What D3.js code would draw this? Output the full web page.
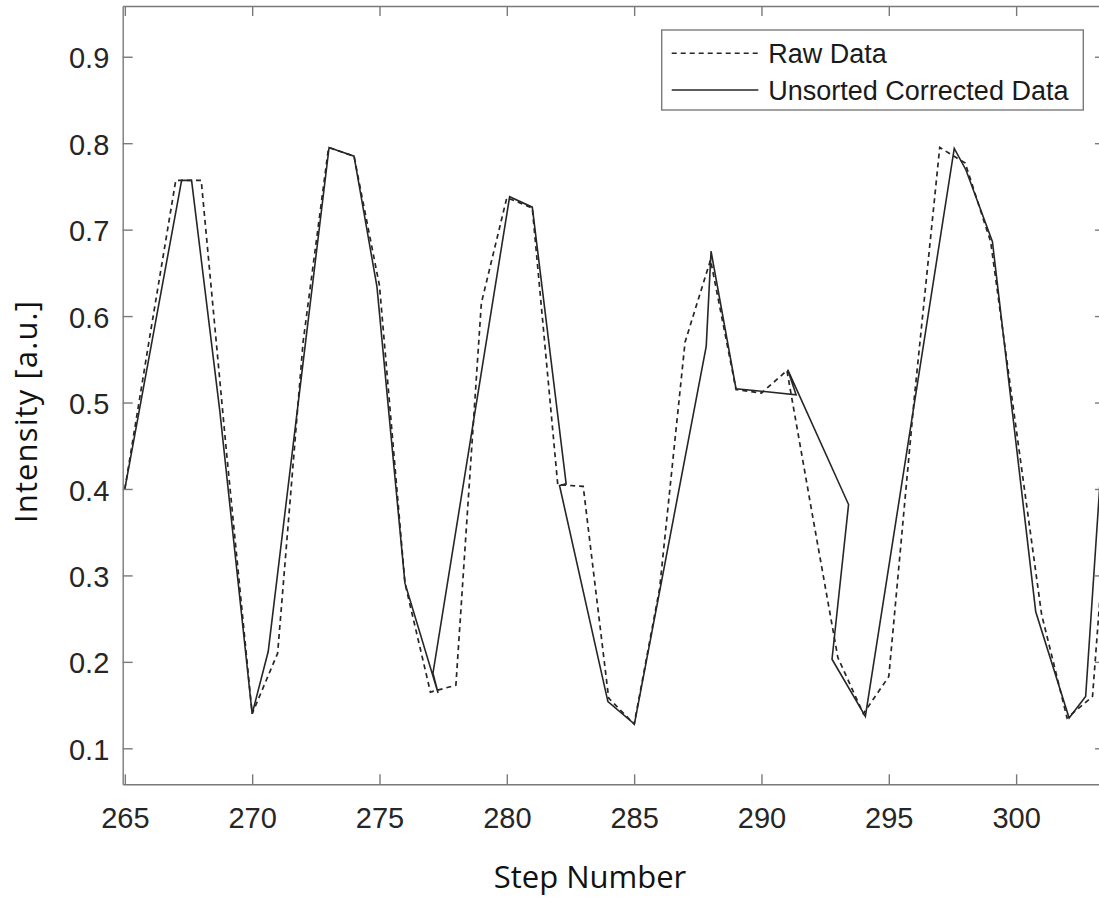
<!DOCTYPE html>
<html>
<head>
<meta charset="utf-8">
<script src="https://cdn.jsdelivr.net/npm/d3@7"></script>
<style>
  html, body { margin: 0; padding: 0; background: #fff; }
  svg { display: block; }
  .tick text { font-family: "Liberation Sans", Arial, sans-serif; font-size: 29px; fill: #262626; }
  .axis-title { font-family: "Open Sans", sans-serif; font-size: 31px; fill: #111; }
  .legend text { font-family: "Liberation Sans", Arial, sans-serif; font-size: 27px; fill: #1a1a1a; }
</style>
</head>
<body>
<div id="chart"></div>
<script>
// ===== Config =====
const WIDTH = 1099, HEIGHT = 897;
const BOX = { left: 122.7, right: 1105, top: 6, bottom: 784.3 };
const AXIS_COLOR = "#7a7a7a";
const LINE_COLOR = "#262626";

// ===== Data =====
// raw data, one reading per step
const rawStep = [265, 266, 267, 268, 269, 270, 271, 272, 273, 274,
                 275, 276, 277, 278, 279, 280, 281, 282, 283, 284,
                 285, 286, 287, 288, 289, 290, 291, 292, 293, 294,
                 295, 296, 297, 298, 299, 300, 301, 302, 303, 304];
const rawIntensity = [0.400, 0.580, 0.757, 0.757, 0.440, 0.140, 0.210, 0.570, 0.795, 0.785,
                      0.635, 0.291, 0.165, 0.173, 0.615, 0.737, 0.725, 0.405, 0.403, 0.158,
                      0.128, 0.285, 0.570, 0.665, 0.515, 0.511, 0.537, 0.370, 0.205, 0.140,
                      0.183, 0.505, 0.795, 0.777, 0.686, 0.470, 0.255, 0.135, 0.160, 0.550];

// corrected data, step positions not sorted
const corrStep = [265.00, 267.23, 267.62, 268.73, 270.00, 270.63, 273.02, 274.00, 274.90, 276.00,
                  277.30, 277.10, 280.11, 281.00, 282.33, 282.07, 283.97, 285.01, 287.83, 288.02,
                  289.00, 291.36, 291.03, 293.42, 292.77, 294.08, 297.57, 298.03, 299.07, 300.77,
                  302.08, 302.73, 303.30];
const corrIntensity = [0.400, 0.757, 0.757, 0.490, 0.140, 0.212, 0.795, 0.785, 0.634, 0.291,
                       0.164, 0.187, 0.738, 0.726, 0.406, 0.404, 0.154, 0.128, 0.565, 0.675,
                       0.516, 0.509, 0.538, 0.382, 0.203, 0.137, 0.794, 0.769, 0.686, 0.258,
                       0.135, 0.160, 0.410];

const xTicks = [265, 270, 275, 280, 285, 290, 295, 300];
const yTicks = [0.1, 0.2, 0.3, 0.4, 0.5, 0.6, 0.7, 0.8, 0.9];

const seriesNames = ["Raw Data", "Unsorted Corrected Data"];

// ===== Scales =====
const x = d3.scaleLinear().domain([264.916, 303.49]).range([BOX.left, BOX.right]);
const y = d3.scaleLinear().domain([0.05836, 0.9587]).range([BOX.bottom, BOX.top]);

const svg = d3.select("#chart").append("svg")
  .attr("width", WIDTH).attr("height", HEIGHT);

svg.append("defs").append("clipPath").attr("id", "plot-clip")
  .append("rect")
  .attr("x", BOX.left).attr("y", BOX.top)
  .attr("width", BOX.right - BOX.left).attr("height", BOX.bottom - BOX.top);

// ===== Lines =====
const raw = rawStep.map((s, i) => ({ step: s, v: rawIntensity[i] }));
const corr = corrStep.map((s, i) => ({ step: s, v: corrIntensity[i] }));
const line = d3.line().x(d => x(d.step)).y(d => y(d.v));

const plot = svg.append("g").attr("clip-path", "url(#plot-clip)");
plot.append("path").datum(raw)
  .attr("fill", "none").attr("stroke", LINE_COLOR)
  .attr("stroke-width", 1.7).attr("stroke-dasharray", "5,4")
  .attr("d", line);
plot.append("path").datum(corr)
  .attr("fill", "none").attr("stroke", LINE_COLOR)
  .attr("stroke-width", 1.6).attr("stroke-linejoin", "miter")
  .attr("d", line);

// ===== Axes (ticks point inward, box on all sides) =====
function styleAxis(g){
  g.selectAll("path.domain").attr("stroke", AXIS_COLOR).attr("stroke-width", 1.4);
  g.selectAll(".tick line").attr("stroke", AXIS_COLOR).attr("stroke-width", 1.4);
  g.selectAll(".tick text").attr("font-family", null).attr("font-size", null).attr("fill", null);
}

svg.append("g")
  .attr("transform", `translate(0,${BOX.bottom})`)
  .call(d3.axisBottom(x).tickValues(xTicks).tickSizeInner(-10).tickSizeOuter(0).tickPadding(23.4))
  .call(styleAxis);

svg.append("g")
  .attr("transform", `translate(0,${BOX.top})`)
  .call(d3.axisTop(x).tickValues(xTicks).tickSizeInner(-10).tickSizeOuter(0).tickFormat(""))
  .call(styleAxis);

svg.append("g")
  .attr("transform", `translate(${BOX.left},0)`)
  .call(d3.axisLeft(y).tickValues(yTicks).tickSizeInner(-10).tickSizeOuter(0)
    .tickPadding(13.4).tickFormat(d3.format(".1f")))
  .call(styleAxis)
  .selectAll(".tick text").attr("dy", "0.38em");

svg.append("g")
  .attr("transform", `translate(${BOX.right},0)`)
  .call(d3.axisRight(y).tickValues(yTicks).tickSizeInner(-10).tickSizeOuter(0).tickFormat(""))
  .call(styleAxis);

// ===== Axis titles =====
svg.append("text").attr("class", "axis-title")
  .attr("text-anchor", "middle")
  .attr("x", 590).attr("y", 888)
  .text("Step Number");

svg.append("text").attr("class", "axis-title")
  .attr("text-anchor", "middle")
  .attr("transform", "translate(37,412) rotate(-90)")
  .attr("textLength", 222).attr("lengthAdjust", "spacing")
  .text("Intensity [a.u.]");

// ===== Legend =====
const legend = svg.append("g").attr("class", "legend");
legend.append("rect")
  .attr("x", 661.7).attr("y", 30).attr("width", 421.6).attr("height", 80)
  .attr("fill", "#fff").attr("stroke", AXIS_COLOR).attr("stroke-width", 1.4);

const items = legend.selectAll("g.item").data(seriesNames).join("g")
  .attr("class", "item")
  .attr("transform", (d, i) => `translate(671.7, ${53.3 + i * 36.7})`);
items.append("line")
  .attr("x1", 0).attr("x2", 86.6).attr("y1", 0).attr("y2", 0)
  .attr("stroke", LINE_COLOR).attr("stroke-width", 1.6)
  .attr("stroke-dasharray", (d, i) => i === 0 ? "5,4" : null);
items.append("text")
  .attr("x", 96.6).attr("y", 9.5)
  .text(d => d);
</script>
</body>
</html>
